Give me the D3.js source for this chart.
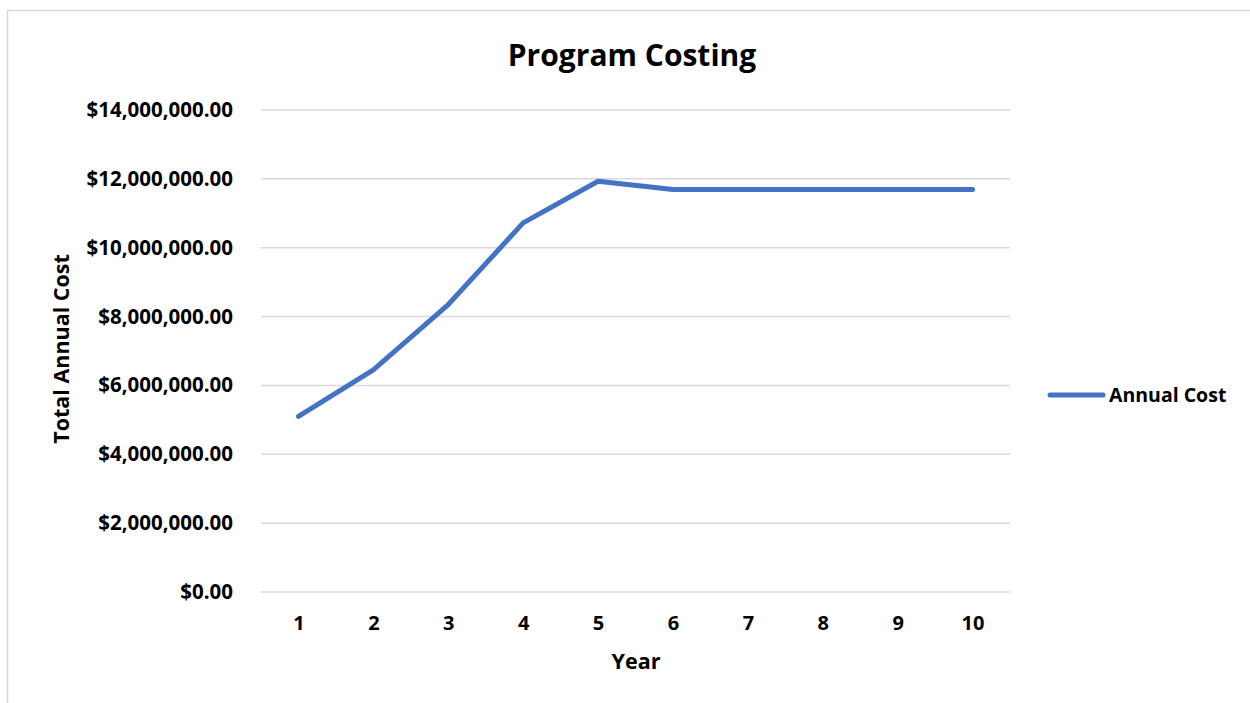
<!DOCTYPE html>
<html>
<head>
<meta charset="utf-8">
<script src="https://cdn.jsdelivr.net/npm/d3@7"></script>
<style>
  body { margin: 0; background: #fff; }
  svg text { font-family: "Open Sans", Lato, sans-serif; font-weight: bold; fill: #000; }
</style>
</head>
<body>
<svg id="chart" width="1250" height="703"></svg>
<script>
// data
const years = ["1", "2", "3", "4", "5", "6", "7", "8", "9", "10"];
const annualCost = [5100000, 6450000, 8350000, 10720000, 11930000, 11690000, 11690000, 11690000, 11690000, 11690000];
const yTicks = [0, 2000000, 4000000, 6000000, 8000000, 10000000, 12000000, 14000000];
const seriesName = "Annual Cost";

const width = 1250, height = 703;
const plot = { left: 261, right: 1010, top: 110, bottom: 592 };

const svg = d3.select("#chart");

// chart area border
svg.append("rect")
  .attr("x", 7.5).attr("y", 10.5)
  .attr("width", width).attr("height", height)
  .attr("fill", "none").attr("stroke", "#d9d9d9").attr("stroke-width", 1.5);

// scales
const x = d3.scalePoint().domain(years).range([plot.left, plot.right]).padding(0.5);
const y = d3.scaleLinear().domain([0, 14000000]).range([plot.bottom, plot.top]);

const money = d3.format("$,.2f");

// gridlines
svg.append("g")
  .selectAll("line")
  .data(yTicks)
  .join("line")
  .attr("x1", plot.left).attr("x2", plot.right)
  .attr("y1", d => y(d)).attr("y2", d => y(d))
  .attr("stroke", "#d9d9d9").attr("stroke-width", 1.5);

// y axis labels
const yAxis = d3.axisLeft(y).tickValues(yTicks).tickFormat(money).tickSize(0).tickPadding(28);
const yg = svg.append("g").attr("transform", `translate(${plot.left},0)`).call(yAxis);
yg.select(".domain").remove();
yg.selectAll("text").style("font-size", "20.5px").attr("font-family", null);

// x axis labels
const xAxis = d3.axisBottom(x).tickSize(0).tickPadding(24);
const xg = svg.append("g").attr("transform", `translate(0,${plot.bottom})`).call(xAxis);
xg.select(".domain").remove();
xg.selectAll("text").style("font-size", "20px").attr("font-family", null);

// line
const line = d3.line()
  .x((d, i) => x(years[i]))
  .y(d => y(d));

svg.append("path")
  .attr("d", line(annualCost))
  .attr("fill", "none")
  .attr("stroke", "#4472c4")
  .attr("stroke-width", 5)
  .attr("stroke-linecap", "round")
  .attr("stroke-linejoin", "round");

// title
svg.append("text")
  .attr("x", 632).attr("y", 66)
  .attr("text-anchor", "middle")
  .style("font-size", "30px")
  .text("Program Costing");

// axis titles
svg.append("text")
  .attr("transform", "translate(69,349) rotate(-90)")
  .attr("text-anchor", "middle")
  .style("font-size", "21.5px")
  .text("Total Annual Cost");

svg.append("text")
  .attr("x", 636).attr("y", 669)
  .attr("text-anchor", "middle")
  .style("font-size", "21.5px")
  .text("Year");

// legend
const legend = svg.append("g").attr("transform", "translate(1050,395)");
legend.append("line")
  .attr("x1", 0).attr("x2", 53)
  .attr("stroke", "#4472c4").attr("stroke-width", 5).attr("stroke-linecap", "round");
legend.append("text")
  .attr("x", 59).attr("y", 7)
  .style("font-size", "19.5px")
  .text(seriesName);
</script>
</body>
</html>
